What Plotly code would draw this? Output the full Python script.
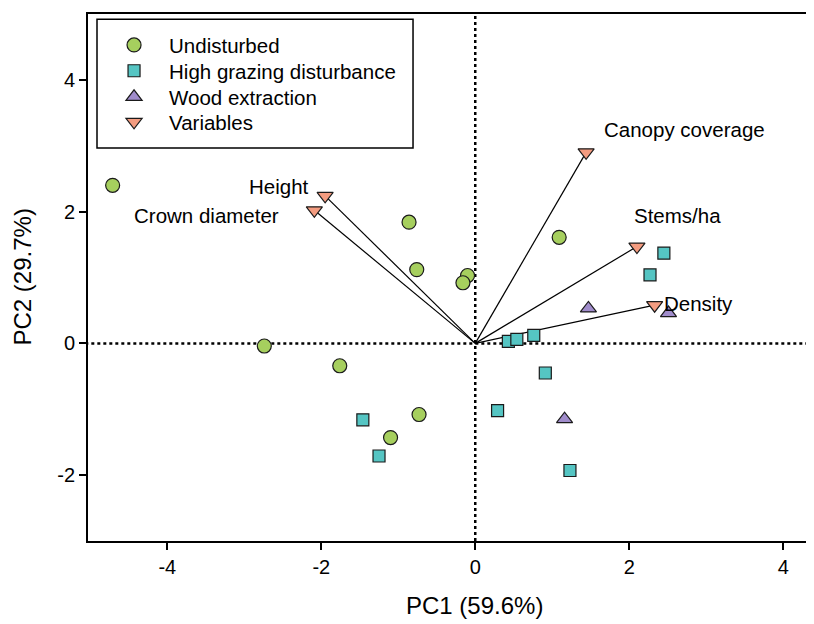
import plotly.graph_objects as go

# Undisturbed sites
und_x = [-4.71, -2.74, -1.76, -0.86, -0.76, -0.10, -0.16, -0.73, -1.10, 1.09]
und_y = [2.40, -0.04, -0.34, 1.84, 1.12, 1.03, 0.92, -1.08, -1.43, 1.61]
# High grazing disturbance
gr_x = [-1.46, -1.25, 2.45, 2.27, 0.43, 0.54, 0.76, 0.91, 0.29, 1.23]
gr_y = [-1.16, -1.71, 1.37, 1.04, 0.03, 0.06, 0.12, -0.45, -1.02, -1.93]
# Wood extraction
wd_x = [1.47, 2.51, 1.16]
wd_y = [0.53, 0.46, -1.15]
# Variables (loadings)
var_names = ["Canopy coverage", "Stems/ha", "Density", "Height", "Crown diameter"]
var_x = [1.44, 2.10, 2.33, -1.95, -2.09]
var_y = [2.90, 1.47, 0.58, 2.24, 2.02]
# label positions / anchors
lab_x = [1.65, 2.04, 2.42, -2.13, -2.52]
lab_y = [3.24, 1.94, 0.61, 2.38, 1.94]
lab_anchor = ["left", "left", "left", "right", "right"]

x_ticks = [-4, -2, 0, 2, 4]
x_ticktext = ["-4", "-2", "0", "2", "4"]
y_ticks = [-2, 0, 2, 4]
y_ticktext = ["-2", "0", "2", "4"]

FONT = "Liberation Sans, Arial, sans-serif"

fig = go.Figure()

# dotted reference lines
fig.add_trace(go.Scatter(x=[-6, 6], y=[0, 0], mode="lines", showlegend=False,
                         line=dict(color="black", width=2.5, dash="dot"), hoverinfo="skip"))
fig.add_trace(go.Scatter(x=[0, 0], y=[-4, 6], mode="lines", showlegend=False,
                         line=dict(color="black", width=2.5, dash="dot"), hoverinfo="skip"))

# arrows
lx, ly = [], []
for vx, vy in zip(var_x, var_y):
    lx += [0, vx, None]
    ly += [0, vy, None]
fig.add_trace(go.Scatter(x=lx, y=ly, mode="lines", showlegend=False,
                         line=dict(color="black", width=1.2), hoverinfo="skip"))

mline = dict(color="#1a1a1a", width=1.2)
fig.add_trace(go.Scatter(x=und_x, y=und_y, mode="markers", name="Undisturbed", legend="legend",
                         marker=dict(symbol="circle", size=14, color="#a6cf5e", line=mline)))
fig.add_trace(go.Scatter(x=gr_x, y=gr_y, mode="markers", name="High grazing disturbance",
                         legend="legend2",
                         marker=dict(symbol="square", size=12, color="#55c5c3", line=mline)))
fig.add_trace(go.Scatter(x=wd_x, y=wd_y, mode="markers", name="Wood extraction", legend="legend3",
                         marker=dict(symbol="triangle-up", size=14, color="#a08ccb", line=mline)))
fig.add_trace(go.Scatter(x=var_x, y=var_y, mode="markers", name="Variables", legend="legend4",
                         marker=dict(symbol="triangle-down", size=14, color="#f49c80", line=mline)))

for n, x, y, a in zip(var_names, lab_x, lab_y, lab_anchor):
    fig.add_annotation(x=x, y=y, text=n, showarrow=False, xanchor=a, yanchor="middle",
                       font=dict(size=20.5, color="black", family=FONT))

# axis titles
fig.add_annotation(xref="paper", yref="paper", x=0.533, y=0, yshift=-64,
                   text="PC1 (59.6%)", showarrow=False, xanchor="center", yanchor="middle",
                   font=dict(size=24, color="black", family=FONT))
fig.add_annotation(xref="paper", yref="paper", x=0, y=0.5, xshift=-66,
                   text="PC2 (29.7%)", showarrow=False, textangle=-90,
                   xanchor="center", yanchor="middle",
                   font=dict(size=24, color="black", family=FONT))

# legend frame
fig.add_shape(type="rect", xref="paper", yref="paper", x0=0.0124, x1=0.4477, y0=0.7457, y1=0.99,
              line=dict(color="black", width=1.5), fillcolor="rgba(0,0,0,0)", layer="above")

leg_common = dict(x=0.0152, xanchor="left", yanchor="middle", borderwidth=0,
                  bgcolor="rgba(0,0,0,0)", font=dict(size=20.5, family=FONT), itemwidth=60)

fig.update_layout(
    width=806, height=616,
    margin=dict(l=80, r=0, t=6, b=83),
    plot_bgcolor="white", paper_bgcolor="white",
    font=dict(family=FONT, color="black", size=20),
    legend=dict(y=0.941, **leg_common),
    legend2=dict(y=0.892, **leg_common),
    legend3=dict(y=0.8425, **leg_common),
    legend4=dict(y=0.795, **leg_common),
    xaxis=dict(range=[-5.03, 4.4], showgrid=False, zeroline=False, automargin=False,
               showline=True, linecolor="black", linewidth=1.8, mirror=True,
               ticks="outside", ticklen=7, tickcolor="black", tickwidth=1.5,
               tickvals=x_ticks, ticktext=x_ticktext, tickfont=dict(size=20)),
    yaxis=dict(range=[-3, 5], showgrid=False, zeroline=False, automargin=False,
               showline=True, linecolor="black", linewidth=1.8, mirror=False,
               ticks="outside", ticklen=7, tickcolor="black", tickwidth=1.5,
               tickvals=y_ticks, ticktext=y_ticktext, tickfont=dict(size=20)),
)

fig.write_html("out.html")
